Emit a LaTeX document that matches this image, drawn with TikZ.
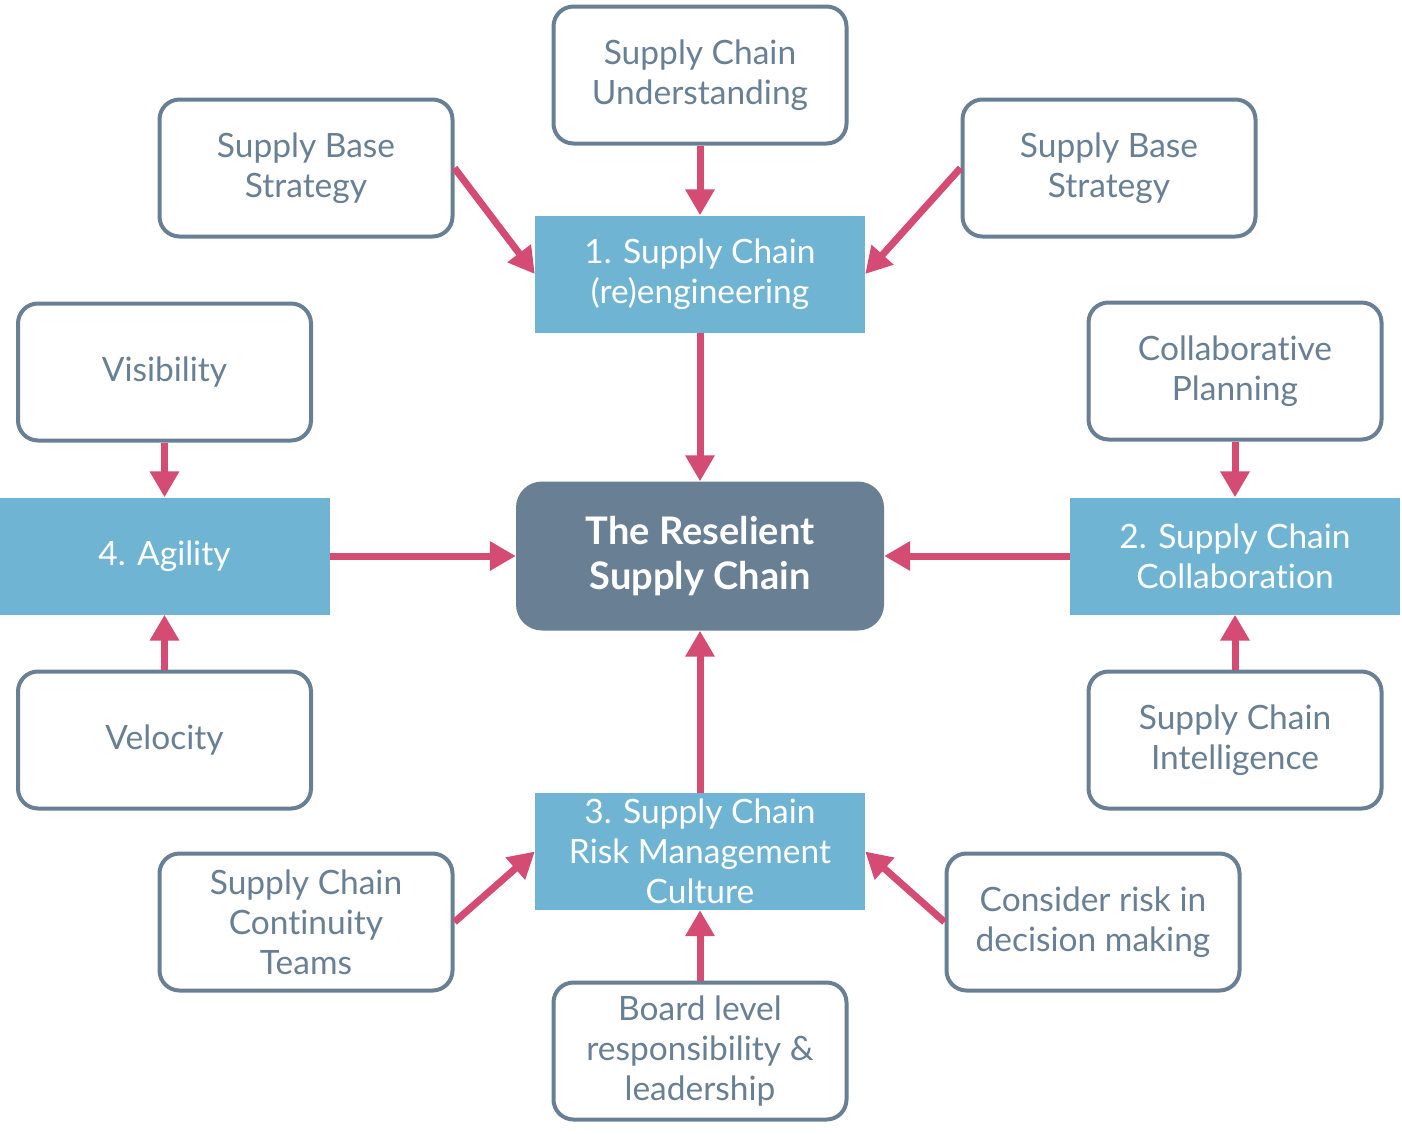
\documentclass[tikz,border=0pt]{standalone}
\usepackage{fontspec}
\setmainfont{Lato}[Ligatures=NoCommon]
\usetikzlibrary{arrows.meta}
\definecolor{slate}{HTML}{687F94}
\definecolor{skyb}{HTML}{70B4D4}
\definecolor{rose}{HTML}{D44B74}
\tikzset{
  wbox/.style={draw=slate, line width=4pt, fill=white, rounded corners=20pt, minimum width=293pt, minimum height=137pt, align=center, text=slate, font=\fontsize{33.5}{40}\selectfont, inner sep=0pt},
  bbox/.style={fill=skyb, minimum width=330pt, minimum height=117pt, align=center, text=white, font=\fontsize{33.5}{40}\selectfont, inner sep=0pt},
  cbox/.style={fill=slate, rounded corners=26pt, minimum width=368pt, minimum height=149pt, align=center, text=white, font=\bfseries\fontsize{38}{45}\selectfont, inner sep=0pt},
  arr/.style={draw=rose, line width=7pt, -{Triangle[width=28pt,length=26pt]}}
}
\begin{document}
\begin{tikzpicture}[x=1pt,y=-1pt]
\useasboundingbox (0,0) rectangle (1402,1133);
% white boxes
\node[wbox] (und) at (700,75) {Supply Chain\\Understanding};
\node[wbox] (sbl) at (306,168) {Supply Base\\Strategy};
\node[wbox] (sbr) at (1109,168) {Supply Base\\Strategy};
\node[wbox] (vis) at (164.5,372) {Visibility};
\node[wbox] (col) at (1235,371) {Collaborative\\Planning};
\node[wbox] (vel) at (164.5,740) {Velocity};
\node[wbox] (int) at (1235,740) {Supply Chain\\Intelligence};
\node[wbox] (cont) at (306,922) {Supply Chain\\Continuity\\Teams};
\node[wbox] (cons) at (1093,922) {Consider risk in\\decision making};
\node[wbox] (brd) at (700,1051) {Board level\\responsibility \&\\leadership};
% blue boxes
\node[bbox] (b1) at (700,274) {1. Supply Chain\\(re)engineering};
\node[bbox] (b4) at (164.5,556) {4. Agility};
\node[bbox] (b2) at (1235,556) {2. Supply Chain\\Collaboration};
\node[bbox] (b3) at (700,851.5) {3. Supply Chain\\Risk Management\\Culture};
% center
\node[cbox] (c) at (700,556) {The Reselient\\Supply Chain};
% arrows
\draw[arr] (und.south) -- (b1.north);
\draw[arr] (sbl.east) -- (b1.west);
\draw[arr] (sbr.west) -- (b1.east);
\draw[arr] (b1.south) -- (c.north);
\draw[arr] (vis.south) -- (b4.north);
\draw[arr] (vel.north) -- (b4.south);
\draw[arr] (b4.east) -- (c.west);
\draw[arr] (col.south) -- (b2.north);
\draw[arr] (int.north) -- (b2.south);
\draw[arr] (b2.west) -- (c.east);
\draw[arr] (b3.north) -- (c.south);
\draw[arr] (cont.east) -- (b3.west);
\draw[arr] (cons.west) -- (b3.east);
\draw[arr] (brd.north) -- (b3.south);
\end{tikzpicture}
\end{document}
